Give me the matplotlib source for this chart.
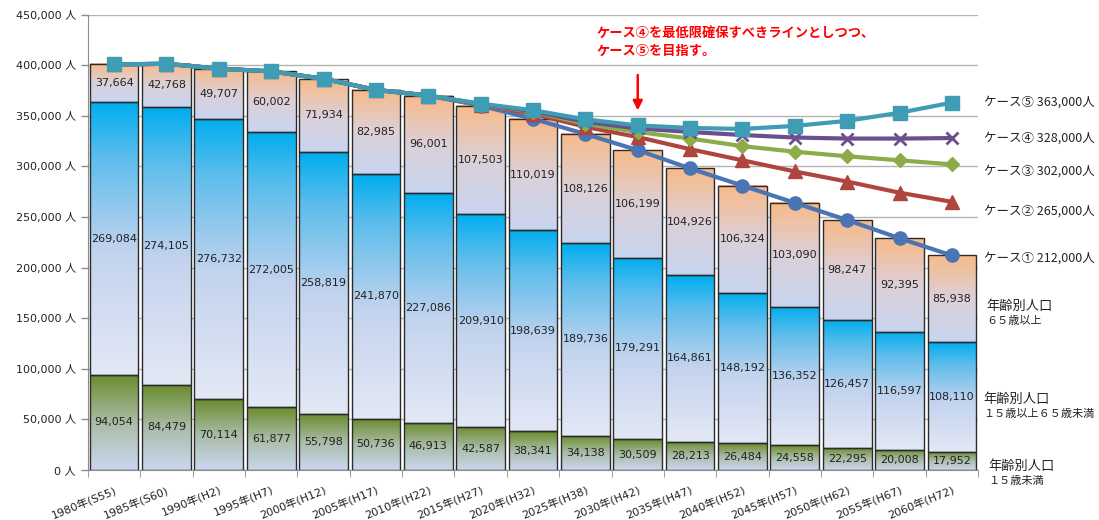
import matplotlib
matplotlib.use("Agg")
import matplotlib.pyplot as plt
import numpy as np
from matplotlib.colors import LinearSegmentedColormap
from matplotlib.ticker import FuncFormatter, MultipleLocator

plt.rcParams['font.family'] = ['DejaVu Sans', 'Noto Sans CJK JP']

# 年次
years = ['1980年(S55)', '1985年(S60)', '1990年(H2)', '1995年(H7)', '2000年(H12)',
         '2005年(H17)', '2010年(H22)', '2015年(H27)', '2020年(H32)', '2025年(H38)',
         '2030年(H42)', '2035年(H47)', '2040年(H52)', '2045年(H57)', '2050年(H62)',
         '2055年(H67)', '2060年(H72)']

# 年齢別人口
young = [94054, 84479, 70114, 61877, 55798, 50736, 46913, 42587, 38341, 34138,
         30509, 28213, 26484, 24558, 22295, 20008, 17952]
working = [269084, 274105, 276732, 272005, 258819, 241870, 227086, 209910, 198639,
           189736, 179291, 164861, 148192, 136352, 126457, 116597, 108110]
elderly = [37664, 42768, 49707, 60002, 71934, 82985, 96001, 107503, 110019, 108126,
           106199, 104926, 106324, 103090, 98247, 92395, 85938]

# 将来人口の各ケース
case1 = [400802, 401352, 396553, 393884, 386551, 375591, 370000, 360000, 346999,
         332000, 315999, 298000, 281000, 264000, 246999, 229000, 212000]
case2 = [400802, 401352, 396553, 393884, 386551, 375591, 370000, 361000, 352000,
         339000, 329000, 317000, 306000, 295000, 285000, 274000, 265000]
case3 = [400802, 401352, 396553, 393884, 386551, 375591, 370000, 361000, 354000,
         342000, 334000, 327500, 320000, 314500, 310000, 306000, 302000]
case4 = [400802, 401352, 396553, 393884, 386551, 375591, 370000, 361500, 354500,
         344000, 337500, 334000, 331000, 328500, 327500, 327500, 328000]
case5 = [400802, 401352, 396553, 393884, 386551, 375591, 370000, 362000, 355500,
         346500, 340500, 338000, 337000, 340000, 345000, 353000, 363000]

case_names = ['ケース①', 'ケース②', 'ケース③', 'ケース④', 'ケース⑤']
case_ends = [212000, 265000, 302000, 328000, 363000]

fig = plt.figure(figsize=(10.99, 5.2), dpi=100)
ax = fig.add_axes([0.080, 0.096, 0.810, 0.876])

x = np.arange(len(years))
w = 0.93

cm_young = LinearSegmentedColormap.from_list('y', ['#cad7f0', '#a9bca6', '#6a8b2c'])
cm_work = LinearSegmentedColormap.from_list('w', [(0, '#e3e8f5'), (0.45, '#c3d3ee'),
                                                   (0.8, '#5dbdec'), (1, '#00aeef')])
cm_old = LinearSegmentedColormap.from_list('o', ['#c8d5f0', '#dcd0d8', '#f8ba88'])
grad = np.linspace(0, 1, 128).reshape(-1, 1)

def draw_segment(xc, bottom, height, cmap):
    ax.imshow(grad, cmap=cmap, origin='lower', aspect='auto', interpolation='bilinear',
              extent=(xc - w / 2, xc + w / 2, bottom, bottom + height), zorder=2)

bottoms_mid = np.array(young)
bottoms_top = np.array(young) + np.array(working)
for i in x:
    draw_segment(i, 0, young[i], cm_young)
    draw_segment(i, bottoms_mid[i], working[i], cm_work)
    draw_segment(i, bottoms_top[i], elderly[i], cm_old)

for vals, bots in [(young, 0), (working, bottoms_mid), (elderly, bottoms_top)]:
    bars = ax.bar(x, vals, width=w, bottom=bots, facecolor='none',
                  edgecolor='#2b2b2b', linewidth=1.0, zorder=3)
    ax.bar_label(bars, labels=[f'{v:,}' for v in vals], label_type='center',
                 fontsize=8, color='#222222', zorder=4)

line_styles = [
    (case1, '#4a74b4', 'o', 9.5),
    (case2, '#b04540', '^', 9.5),
    (case3, '#8bac48', 'D', 7),
    (case4, '#6a4f8e', 'x', 9),
    (case5, '#3e9cb5', 's', 9.5),
]
for k, (vals, col, mk, ms) in enumerate(line_styles):
    ax.plot(x, vals, color=col, linewidth=3, marker=mk, markersize=ms,
            markeredgewidth=2 if mk == 'x' else 1, markeredgecolor=col,
            zorder=5 + k)

ax.set_xlim(-0.5, len(years) - 0.5)
ax.set_ylim(0, 450000)
ax.yaxis.set_major_locator(MultipleLocator(50000))
ax.yaxis.set_major_formatter(FuncFormatter(lambda v, p: f'{int(v):,} 人'))
ax.grid(axis='y', color='#b3b3b3', linewidth=1.0, zorder=0)
ax.set_axisbelow(True)
for s in ['top', 'right']:
    ax.spines[s].set_visible(False)
ax.spines['left'].set_color('#8c8c8c')
ax.spines['bottom'].set_color('#8c8c8c')
ax.tick_params(axis='y', colors='#8c8c8c', labelcolor='#222222', labelsize=8,
               length=5, width=1)

ax.set_xticks(x)
ax.set_xticklabels(years, rotation=22, ha='right', rotation_mode='anchor',
                   fontsize=8, color='#222222')
ax.tick_params(axis='x', length=0, pad=10)
ax.set_xticks(np.arange(-0.5, len(years), 1), minor=True)
ax.tick_params(axis='x', which='minor', length=5, color='#8c8c8c')

# ケースの凡例（右側）
offsets = [-2, -7, -5, 0, 0]
trans = ax.get_yaxis_transform()
for name, val, off in zip(case_names, case_ends, offsets):
    ax.annotate(f'{name} {val:,}人', xy=(1.0, val), xycoords=trans,
                xytext=(4, off), textcoords='offset points', va='center', ha='left',
                fontsize=9, color='#222222', annotation_clip=False,
                family=['Noto Sans CJK JP', 'DejaVu Sans'])

# 年齢区分の説明
age_labels = [('年齢別人口', '６５歳以上', 155000, 0.5),
              ('年齢別人口', '１５歳以上６５歳未満', 63000, 0.0),
              ('年齢別人口', '１５歳未満', -3000, 0.8)]
for head, sub, yv, dx in age_labels:
    ax.annotate(head, xy=(1.0, yv), xycoords=trans, xytext=(4 + dx * 4, 0),
                textcoords='offset points', ha='left', va='bottom', fontsize=9.5,
                color='#222222', annotation_clip=False,
                family=['Noto Sans CJK JP', 'DejaVu Sans'])
    ax.annotate(sub, xy=(1.0, yv), xycoords=trans, xytext=(4 + dx * 4, -2),
                textcoords='offset points', ha='left', va='top', fontsize=8,
                color='#222222', annotation_clip=False,
                family=['Noto Sans CJK JP', 'DejaVu Sans'])

# 目標の注記
ax.text(9.22, 422500, 'ケース④を最低限確保すべきラインとしつつ、\nケース⑤を目指す。',
        color='#ff0000', fontsize=9.5, fontweight='bold', ha='left', va='center',
        linespacing=1.3, family=['Noto Sans CJK JP', 'DejaVu Sans'], zorder=10)
ax.annotate('', xy=(10, case5[10] + 12000), xytext=(10, 393000),
            arrowprops=dict(arrowstyle='-|>', color='#ff0000', lw=1.8,
                            mutation_scale=14), zorder=10)

fig.savefig('out.png', dpi=100)
